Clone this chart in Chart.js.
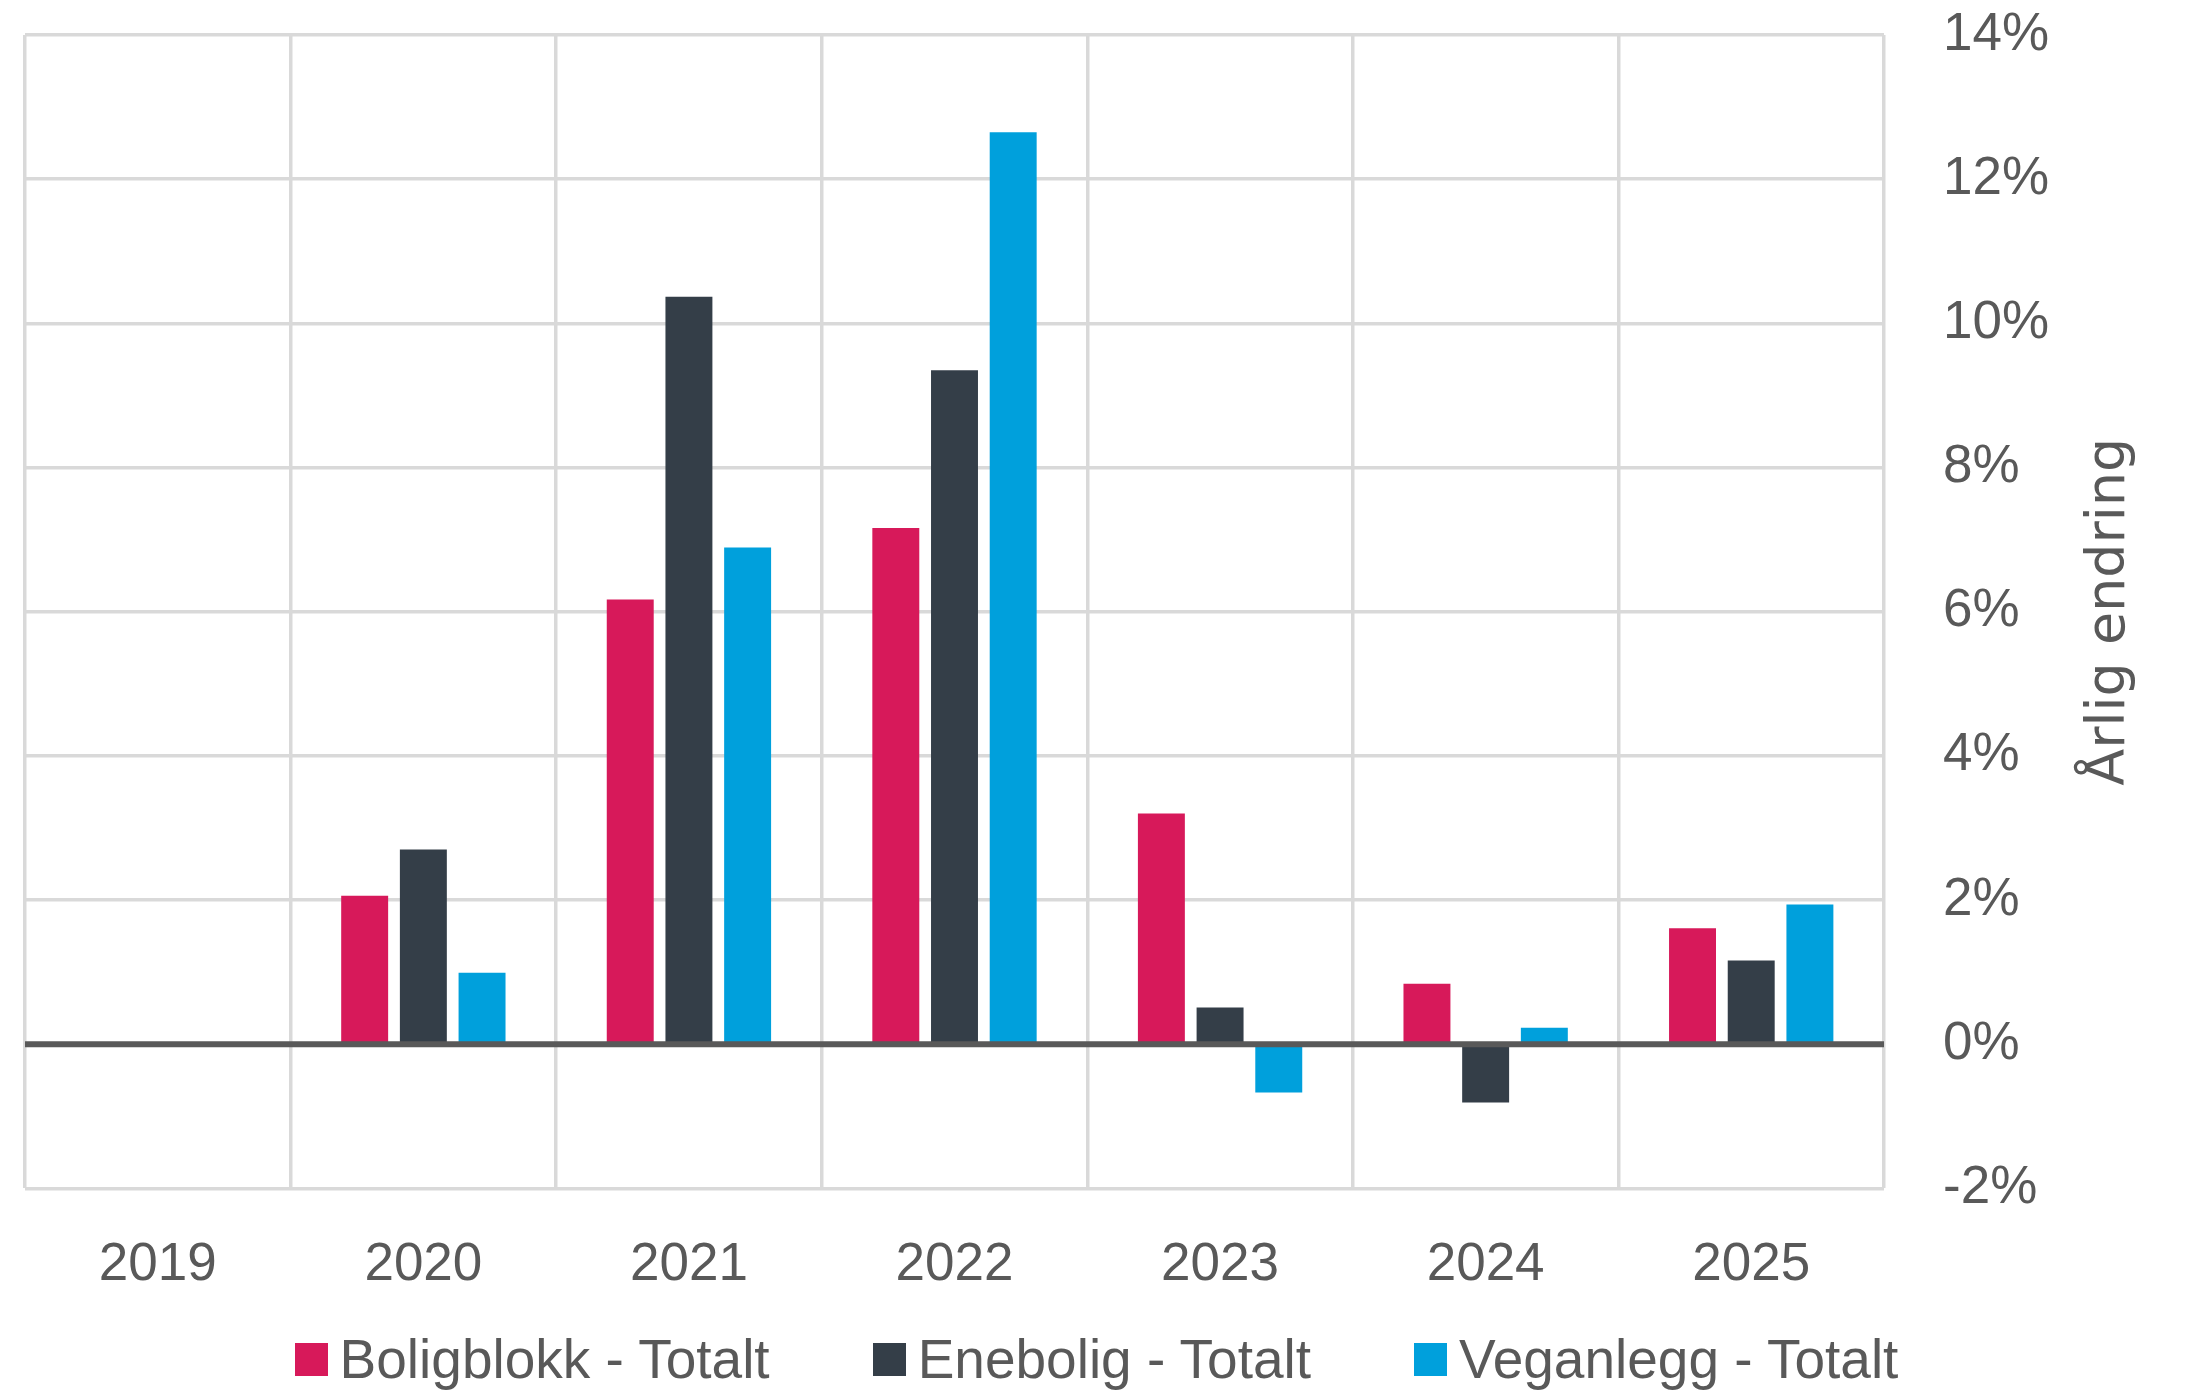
<!DOCTYPE html>
<html lang="no">
<head>
<meta charset="utf-8">
<title>Årlig endring</title>
<script src="https://cdn.jsdelivr.net/npm/chart.js@4/dist/chart.umd.min.js"></script>
<style>
  html, body { margin: 0; padding: 0; background: #ffffff; }
  #wrap { width: 2193px; height: 1391px; position: relative; }
  #chart { position: absolute; left: 0; top: 0; }
  #legend {
    position: absolute; left: 0; top: 1329px; width: 2193px; height: 60px;
    display: flex; justify-content: center; align-items: center; gap: 103px;
    font-family: "Liberation Sans", Arial, sans-serif; font-size: 55px; line-height: 1;
    color: #595959;
  }
  #legend .item { display: flex; align-items: center; white-space: nowrap; }
  #legend .swatch { width: 33px; height: 33px; margin-right: 12px; flex: none; }
</style>
</head>
<body>
<div id="wrap">
  <canvas id="chart" width="2193" height="1391"></canvas>
  <div id="legend"></div>
</div>
<script>
// Years on the x axis
const years = ['2019', '2020', '2021', '2022', '2023', '2024', '2025'];

// Annual change in percent per building type
const boligblokk = [null, 2.06, 6.17, 7.16, 3.20, 0.84, 1.61];
const enebolig   = [null, 2.70, 10.37, 9.35, 0.51, -0.81, 1.16];
const veganlegg  = [null, 0.99, 6.89, 12.65, -0.67, 0.23, 1.94];

const seriesNames = ['Boligblokk - Totalt', 'Enebolig - Totalt', 'Veganlegg - Totalt'];
const seriesColors = ['#D7195A', '#343E48', '#00A0DC'];

// Value axis ticks
const yMin = -2;
const yMax = 14;
const yStep = 2;
const yTitle = 'Årlig endring';

const textColor = '#595959';
const gridColor = '#d9d9d9';
const mainFont = '"Liberation Sans", Arial, sans-serif';

// Heavy baseline at 0 %, drawn over the bars
const zeroLine = {
  id: 'zeroLine',
  afterDatasetsDraw(chart) {
    const { ctx, chartArea, scales } = chart;
    const y0 = scales.y.getPixelForValue(0);
    ctx.save();
    ctx.strokeStyle = '#595959';
    ctx.lineWidth = 6;
    ctx.beginPath();
    ctx.moveTo(chartArea.left, y0);
    ctx.lineTo(chartArea.right, y0);
    ctx.stroke();
    ctx.restore();
  }
};

// Axis title on the right, reading bottom to top
const rightAxisTitle = {
  id: 'rightAxisTitle',
  afterDraw(chart) {
    const { ctx, chartArea, scales } = chart;
    ctx.save();
    ctx.font = '54px "DejaVu Sans", sans-serif';
    ctx.fillStyle = textColor;
    ctx.textAlign = 'center';
    ctx.textBaseline = 'alphabetic';
    ctx.translate(scales.y.right - 69, (chartArea.top + chartArea.bottom) / 2);
    ctx.rotate(-Math.PI / 2);
    ctx.fillText(yTitle, 0, 0);
    ctx.restore();
  }
};

const seriesData = [boligblokk, enebolig, veganlegg];

const chart = new Chart(document.getElementById('chart'), {
  type: 'bar',
  data: {
    labels: years,
    datasets: seriesData.map((values, i) => ({
      label: seriesNames[i],
      data: values,
      backgroundColor: seriesColors[i],
      borderWidth: 0,
      categoryPercentage: 0.663,
      barPercentage: 0.80
    }))
  },
  options: {
    responsive: false,
    devicePixelRatio: 1,
    animation: false,
    layout: { padding: { left: 25, top: 35, right: 0, bottom: 94 } },
    plugins: {
      tooltip: { enabled: false },
      legend: { display: false }
    },
    scales: {
      x: {
        grid: {
          color: gridColor, lineWidth: 3.5, offset: true,
          drawTicks: true, tickLength: 45, tickColor: 'rgba(0,0,0,0)'
        },
        border: { display: false },
        ticks: {
          color: textColor,
          font: { family: mainFont, size: 53 },
          padding: 0,
          maxRotation: 0
        }
      },
      y: {
        position: 'right',
        min: yMin,
        max: yMax,
        grid: {
          color: gridColor, lineWidth: 3.5,
          drawTicks: true, tickLength: 59, tickColor: 'rgba(0,0,0,0)'
        },
        border: { display: false },
        ticks: {
          stepSize: yStep,
          color: textColor,
          font: { family: mainFont, size: 53 },
          padding: 0,
          callback: (v) => v + '%'
        },
        afterFit: (scale) => { scale.width = 309; }
      }
    }
  },
  plugins: [zeroLine, rightAxisTitle]
});

// Legend built from the chart's own datasets
const legendEl = document.getElementById('legend');
chart.data.datasets.forEach((ds) => {
  const item = document.createElement('div');
  item.className = 'item';
  const swatch = document.createElement('span');
  swatch.className = 'swatch';
  swatch.style.background = ds.backgroundColor;
  const label = document.createElement('span');
  label.textContent = ds.label;
  item.appendChild(swatch);
  item.appendChild(label);
  legendEl.appendChild(item);
});
</script>
</body>
</html>
